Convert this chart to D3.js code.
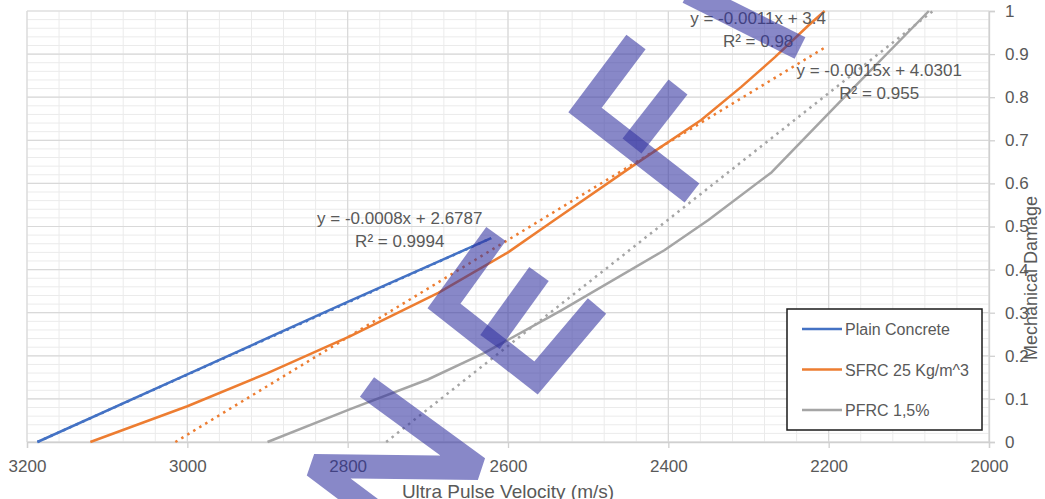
<!DOCTYPE html>
<html>
<head>
<meta charset="utf-8">
<script src="https://cdn.jsdelivr.net/npm/d3@7"></script>
<style>
  html, body { margin: 0; padding: 0; background: #fff; }
  svg { display: block; font-family: "Liberation Sans", Arial, sans-serif; }
</style>
</head>
<body>
<svg id="chart" width="1045" height="499"></svg>
<script>
// series (velocity m/s, damage)
const plainVel = [3187, 3000, 2800, 2621];
const plainDmg = [0, 0.157, 0.325, 0.473];
const sfrcVel = [3121, 3000, 2900, 2796, 2687, 2600, 2546, 2437, 2359, 2309, 2267, 2225, 2205];
const sfrcDmg = [0, 0.083, 0.16, 0.246, 0.346, 0.44, 0.51, 0.65, 0.747, 0.824, 0.893, 0.967, 1.0];
const pfrcVel = [2900, 2796, 2700, 2630, 2534, 2405, 2350, 2271, 2184, 2075];
const pfrcDmg = [0, 0.077, 0.145, 0.206, 0.305, 0.445, 0.515, 0.626, 0.793, 1.0];

// linear trendlines (drawn part, clipped to the axis)
const plainTrendVel = [3187, 2621];
const plainTrendDmg = [0, 0.473];
const sfrcTrendVel = [3015, 2205];
const sfrcTrendDmg = [0, 0.915];
const pfrcTrendVel = [2752, 2070];
const pfrcTrendDmg = [0, 1.0];

const seriesNames = ['Plain Concrete', 'SFRC 25 Kg/m^3', 'PFRC 1,5%'];
const seriesColors = ['#4472C4', '#ED7D31', '#A5A5A5'];

const eqLines = [
  ['y = -0.0008x + 2.6787', 'R\u00B2 = 0.9994'],
  ['y = -0.0011x + 3.4', 'R\u00B2 = 0.98'],
  ['y = -0.0015x + 4.0301', 'R\u00B2 = 0.955']
];
// label anchor (velocity, damage) of the first line of each equation
const eqAnchorVel = [2735, 2288, 2137];
const eqAnchorDmg = [0.52, 0.983, 0.864];

const xTicks = [3200, 3000, 2800, 2600, 2400, 2200, 2000];
const yTicks = [0, 0.1, 0.2, 0.3, 0.4, 0.5, 0.6, 0.7, 0.8, 0.9, 1];

const svg = d3.select('#chart');
const x = d3.scaleLinear().domain([3200, 2000]).range([27, 989]);
const y = d3.scaleLinear().domain([0, 1]).range([442, 11]);
const textColor = '#595959';

// gridlines: minor then major
const grid = svg.append('g');
grid.selectAll('.vminor').data(d3.range(3200, 1999, -40)).enter().append('line')
  .attr('x1', d => x(d)).attr('x2', d => x(d)).attr('y1', y(1)).attr('y2', y(0))
  .attr('stroke', '#ebebeb').attr('stroke-width', 1);
grid.selectAll('.hminor').data(d3.range(0, 1.001, 0.02)).enter().append('line')
  .attr('x1', x(3200)).attr('x2', x(2000)).attr('y1', d => y(d)).attr('y2', d => y(d))
  .attr('stroke', '#ebebeb').attr('stroke-width', 1);
grid.selectAll('.vmajor').data(xTicks).enter().append('line')
  .attr('x1', d => x(d)).attr('x2', d => x(d)).attr('y1', y(1)).attr('y2', y(0))
  .attr('stroke', '#d9d9d9').attr('stroke-width', 1.2);
grid.selectAll('.hmajor').data(yTicks).enter().append('line')
  .attr('x1', x(3200)).attr('x2', x(2000)).attr('y1', d => y(d)).attr('y2', d => y(d))
  .attr('stroke', '#d9d9d9').attr('stroke-width', 1.2);

// axes
const xAxis = svg.append('g').attr('transform', `translate(0,${y(0)})`)
  .call(d3.axisBottom(x).tickValues(xTicks).tickSize(6).tickPadding(12).tickFormat(d3.format('d')));
const yAxis = svg.append('g').attr('transform', `translate(${x(2000)},0)`)
  .call(d3.axisRight(y).tickValues(yTicks).tickSize(6).tickPadding(12).tickFormat(d => d === 0 || d === 1 ? d : d3.format('.1f')(d)));
[xAxis, yAxis].forEach(a => {
  a.select('.domain').attr('stroke', '#d0d0d0').attr('stroke-width', 1.3);
  a.selectAll('.tick line').attr('stroke', '#d0d0d0').attr('stroke-width', 1.3);
  a.selectAll('.tick text').attr('fill', textColor).style('font-size', '17px')
    .style('font-family', '"Liberation Sans", Arial, sans-serif');
});
yAxis.selectAll('.tick text').attr('x', 16);

svg.append('text').attr('x', (x(3200) + x(2000)) / 2).attr('y', 498)
  .attr('text-anchor', 'middle').attr('fill', textColor).style('font-size', '19px')
  .text('Ultra Pulse Velocity (m/s)');
svg.append('text').attr('transform', 'translate(1037,278) rotate(-90)')
  .attr('text-anchor', 'middle').attr('fill', textColor).style('font-size', '18px')
  .text('Mechanical Damage');

// data lines
const series = [
  { vel: plainVel, dmg: plainDmg, tv: plainTrendVel, td: plainTrendDmg },
  { vel: sfrcVel, dmg: sfrcDmg, tv: sfrcTrendVel, td: sfrcTrendDmg },
  { vel: pfrcVel, dmg: pfrcDmg, tv: pfrcTrendVel, td: pfrcTrendDmg }
];
const line = d3.line().x(d => x(d[0])).y(d => y(d[1]));

series.forEach((s, i) => {
  svg.append('path')
    .attr('d', line(s.vel.map((v, j) => [v, s.dmg[j]])))
    .attr('fill', 'none').attr('stroke', seriesColors[i])
    .attr('stroke-width', 2.5).attr('stroke-linejoin', 'round');
});
series.forEach((s, i) => {
  svg.append('path')
    .attr('d', line(s.tv.map((v, j) => [v, s.td[j]])))
    .attr('fill', 'none').attr('stroke', seriesColors[i])
    .attr('stroke-width', 2.5).attr('stroke-dasharray', '2.5,4.5');
});

// trendline equations
eqLines.forEach((lines, i) => {
  const cx = x(eqAnchorVel[i]), cy = y(eqAnchorDmg[i]);
  lines.forEach((t, k) => {
    svg.append('text').attr('x', cx).attr('y', cy + k * 23 + 6)
      .attr('text-anchor', 'middle').attr('fill', textColor)
      .style('font-size', '17px').text(t);
  });
});

// legend
const lg = svg.append('g').attr('transform', 'translate(787,309)');
lg.append('rect').attr('width', 195).attr('height', 121)
  .attr('fill', '#fff').attr('stroke', '#1a1a1a').attr('stroke-width', 1.5);
const rows = lg.selectAll('.row').data(seriesNames).enter().append('g')
  .attr('transform', (d, i) => `translate(0,${20 + i * 40.5})`);
rows.append('line').attr('x1', 15).attr('x2', 55).attr('y1', 0).attr('y2', 0)
  .attr('stroke', (d, i) => seriesColors[i]).attr('stroke-width', 2.5);
rows.append('text').attr('x', 58).attr('y', 6).attr('fill', textColor)
  .style('font-size', '16px').text(d => d);

// watermark strokes (page decoration, pixel layout)
const watermark = [
  [[367, 387], [478, 468], [314, 466], [394, 526]],
  [[496, 234], [444, 306], [536, 378], [597, 306]],
  [[490, 342], [539, 274]],
  [[636, 42], [585, 110], [692, 193]],
  [[632, 146], [678, 87]],
  [[688, -8], [800, 48]]
];
svg.append('g').selectAll('path').data(watermark).enter().append('path')
  .attr('d', d => d3.line()(d))
  .attr('fill', 'none').attr('stroke', 'rgb(50,50,160)').attr('stroke-opacity', 0.58)
  .attr('stroke-width', 24).attr('stroke-linejoin', 'miter').attr('stroke-miterlimit', 2)
  .attr('stroke-linecap', 'butt');
</script>
</body>
</html>
